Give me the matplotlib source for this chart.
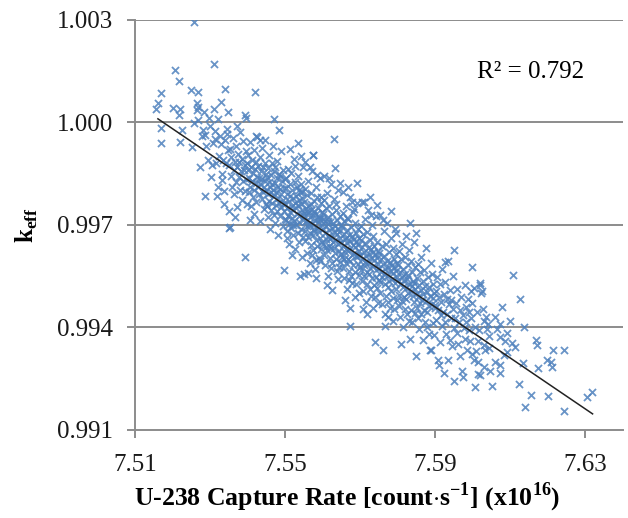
import numpy as np
import matplotlib.pyplot as plt
from matplotlib.ticker import FormatStrFormatter

plt.rcParams['font.family'] = ['Liberation Serif', 'DejaVu Serif']
plt.rcParams['mathtext.fontset'] = 'custom'
plt.rcParams['mathtext.rm'] = 'Liberation Serif'
plt.rcParams['mathtext.bf'] = 'Liberation Serif:bold'

# (capture rate x1e16, keff) pairs, grouped by region
left_tail = [
    (7.5256, 1.00293), (7.5311, 1.00171), (7.5207, 1.00154), (7.5217, 1.00121), (7.5341, 1.00098),
    (7.5419, 1.00089), (7.5169, 1.00087), (7.5249, 1.00093), (7.5268, 1.00089), (7.5160, 1.00056),
    (7.5156, 1.00039), (7.5200, 1.00042), (7.5220, 1.00040), (7.5218, 1.00022), (7.5264, 1.00056),
    (7.5269, 1.00045), (7.5264, 1.00036), (7.5393, 1.00022), (7.5395, 1.00012), (7.5469, 1.00009),
    (7.5269, 1.00007), (7.5297, 1.00012), (7.5169, 0.99982), (7.5169, 0.99939), (7.5220, 0.99942),
    (7.5226, 0.99976), (7.5258, 0.99998), (7.5282, 0.99978), (7.5287, 0.99963), (7.5278, 0.99960),
    (7.5345, 0.99980), (7.5346, 0.99966), (7.5371, 0.99990), (7.5313, 0.99951), (7.5253, 0.99929),
    (7.5483, 0.99976), (7.5423, 0.99960), (7.5433, 0.99947), (7.5447, 0.99949), (7.5287, 0.99783),
    (7.5273, 0.99869), (7.5305, 0.99876), (7.5303, 0.99841), (7.5322, 0.99812), (7.5331, 0.99832),
    (7.5336, 0.99798), (7.5318, 0.99783), (7.5340, 0.99949), (7.5325, 0.99900), (7.5334, 0.99890),
    (7.5343, 0.99881), (7.5348, 0.99920), (7.5329, 0.99935), (7.5315, 0.99880), (7.5338, 0.99760),
    (7.5350, 0.99740), (7.5332, 0.99850), (7.5312, 0.99975), (7.5290, 0.99930), (7.5300, 0.99990),
    (7.5308, 0.99940), (7.5295, 0.99890), (7.5320, 1.00010), (7.5326, 0.99960), (7.5285, 1.00030),
    (7.5310, 1.00040), (7.5330, 1.00060), (7.5348, 1.00030), (7.5367, 0.99724), (7.5353, 0.99695),
    (7.5351, 0.99690), (7.5393, 0.99607), (7.5407, 0.99715), (7.5497, 0.99568), (7.5540, 0.99549),
    (7.5549, 0.99557), (7.5629, 0.99952), (7.5575, 0.99905),
]

band_a = [
    (7.5351, 0.99876), (7.5353, 0.99921), (7.5355, 0.99843), (7.5357, 0.99898), (7.5359, 0.99812),
    (7.5361, 0.99955), (7.5363, 0.99861), (7.5364, 0.99790), (7.5366, 0.99884), (7.5368, 0.99930),
    (7.5369, 0.99826), (7.5371, 0.99868), (7.5372, 0.99752), (7.5374, 0.99907), (7.5376, 0.99839),
    (7.5377, 0.99885), (7.5379, 0.99971), (7.5381, 0.99803), (7.5382, 0.99856), (7.5384, 0.99774),
    (7.5386, 0.99892), (7.5387, 0.99829), (7.5389, 0.99944), (7.5391, 0.99861), (7.5392, 0.99798),
    (7.5394, 0.99874), (7.5395, 0.99915), (7.5397, 0.99835), (7.5398, 0.99760), (7.5399, 0.99882),
    (7.5401, 0.99861), (7.5402, 0.99903), (7.5403, 0.99795), (7.5404, 0.99838), (7.5406, 0.99942),
    (7.5407, 0.99812), (7.5408, 0.99870), (7.5409, 0.99756), (7.5411, 0.99889), (7.5412, 0.99827),
    (7.5413, 0.99780), (7.5414, 0.99851), (7.5416, 0.99918), (7.5417, 0.99803), (7.5418, 0.99733),
    (7.5419, 0.99864), (7.5421, 0.99822), (7.5422, 0.99885), (7.5423, 0.99768), (7.5424, 0.99841),
    (7.5426, 0.99957), (7.5427, 0.99810), (7.5428, 0.99873), (7.5429, 0.99791), (7.5431, 0.99836),
    (7.5432, 0.99712), (7.5433, 0.99898), (7.5434, 0.99818), (7.5436, 0.99857), (7.5437, 0.99776),
    (7.5438, 0.99925), (7.5439, 0.99833), (7.5441, 0.99795), (7.5442, 0.99868), (7.5443, 0.99746),
    (7.5444, 0.99812), (7.5446, 0.99880), (7.5447, 0.99829), (7.5448, 0.99762), (7.5449, 0.99849),
]

band_b = [
    (7.5450, 0.99803), (7.5451, 0.99841), (7.5452, 0.99754), (7.5453, 0.99867), (7.5454, 0.99722),
    (7.5455, 0.99790), (7.5456, 0.99826), (7.5457, 0.99903), (7.5458, 0.99771), (7.5459, 0.99812),
    (7.5460, 0.99688), (7.5461, 0.99845), (7.5462, 0.99796), (7.5463, 0.99742), (7.5464, 0.99880),
    (7.5465, 0.99818), (7.5466, 0.99765), (7.5467, 0.99931), (7.5468, 0.99801), (7.5469, 0.99729),
    (7.5470, 0.99856), (7.5471, 0.99783), (7.5472, 0.99822), (7.5473, 0.99704), (7.5474, 0.99868),
    (7.5475, 0.99757), (7.5476, 0.99795), (7.5477, 0.99836), (7.5478, 0.99741), (7.5479, 0.99887),
    (7.5480, 0.99779), (7.5481, 0.99812), (7.5482, 0.99670), (7.5483, 0.99850), (7.5484, 0.99763),
    (7.5485, 0.99804), (7.5486, 0.99726), (7.5487, 0.99842), (7.5488, 0.99789), (7.5489, 0.99915),
    (7.5490, 0.99751), (7.5492, 0.99828), (7.5493, 0.99697), (7.5494, 0.99773), (7.5495, 0.99861),
    (7.5496, 0.99740), (7.5497, 0.99808), (7.5498, 0.99765), (7.5499, 0.99833), (7.5499, 0.99718),
    (7.5500, 0.99762), (7.5501, 0.99808), (7.5502, 0.99715), (7.5503, 0.99836), (7.5504, 0.99681),
    (7.5505, 0.99749), (7.5506, 0.99790), (7.5507, 0.99727), (7.5508, 0.99864), (7.5509, 0.99703),
    (7.5510, 0.99771), (7.5511, 0.99645), (7.5512, 0.99818), (7.5513, 0.99738), (7.5514, 0.99785),
    (7.5515, 0.99692), (7.5516, 0.99851), (7.5517, 0.99756), (7.5518, 0.99720), (7.5519, 0.99801),
    (7.5520, 0.99669), (7.5521, 0.99779), (7.5522, 0.99742), (7.5523, 0.99893), (7.5524, 0.99711),
    (7.5525, 0.99765), (7.5526, 0.99628), (7.5527, 0.99826), (7.5528, 0.99750), (7.5529, 0.99698),
    (7.5530, 0.99784), (7.5531, 0.99733), (7.5532, 0.99811), (7.5533, 0.99676), (7.5534, 0.99759),
    (7.5535, 0.99842), (7.5536, 0.99709), (7.5537, 0.99772), (7.5538, 0.99650), (7.5539, 0.99795),
    (7.5540, 0.99728), (7.5541, 0.99761), (7.5542, 0.99687), (7.5543, 0.99820), (7.5544, 0.99743),
    (7.5545, 0.99606), (7.5546, 0.99778), (7.5547, 0.99715), (7.5548, 0.99868), (7.5549, 0.99736),
    (7.5541, 0.99902), (7.5533, 0.99939), (7.5518, 0.99611), (7.5527, 0.99872), (7.5512, 0.99921),
    (7.5506, 0.99662), (7.5538, 0.99803), (7.5547, 0.99664), (7.5521, 0.99700), (7.5544, 0.99796),
]

band_c = [
    (7.5550, 0.99725), (7.5551, 0.99768), (7.5552, 0.99683), (7.5553, 0.99804), (7.5554, 0.99652),
    (7.5555, 0.99711), (7.5556, 0.99749), (7.5557, 0.99618), (7.5558, 0.99786), (7.5559, 0.99697),
    (7.5560, 0.99735), (7.5561, 0.99664), (7.5562, 0.99829), (7.5563, 0.99706), (7.5564, 0.99758),
    (7.5565, 0.99589), (7.5566, 0.99722), (7.5567, 0.99676), (7.5568, 0.99793), (7.5569, 0.99641),
    (7.5570, 0.99744), (7.5571, 0.99701), (7.5572, 0.99857), (7.5573, 0.99669), (7.5574, 0.99728),
    (7.5575, 0.99625), (7.5576, 0.99770), (7.5577, 0.99688), (7.5578, 0.99741), (7.5579, 0.99570),
    (7.5580, 0.99715), (7.5581, 0.99812), (7.5582, 0.99656), (7.5583, 0.99733), (7.5584, 0.99692),
    (7.5585, 0.99781), (7.5586, 0.99637), (7.5587, 0.99709), (7.5588, 0.99750), (7.5589, 0.99603),
    (7.5590, 0.99724), (7.5591, 0.99680), (7.5592, 0.99838), (7.5593, 0.99661), (7.5594, 0.99716),
    (7.5595, 0.99764), (7.5596, 0.99629), (7.5597, 0.99698), (7.5598, 0.99737), (7.5599, 0.99651),
    (7.5553, 0.99883), (7.5560, 0.99558), (7.5567, 0.99870), (7.5575, 0.99905), (7.5583, 0.99545),
    (7.5571, 0.99612), (7.5586, 0.99846), (7.5594, 0.99594), (7.5557, 0.99739), (7.5564, 0.99700),
    (7.5578, 0.99683), (7.5589, 0.99718), (7.5596, 0.99780), (7.5581, 0.99596), (7.5569, 0.99760),
    (7.5600, 0.99688), (7.5601, 0.99731), (7.5602, 0.99645), (7.5603, 0.99772), (7.5604, 0.99613),
    (7.5605, 0.99676), (7.5606, 0.99712), (7.5607, 0.99581), (7.5608, 0.99750), (7.5609, 0.99659),
    (7.5610, 0.99697), (7.5611, 0.99627), (7.5612, 0.99794), (7.5613, 0.99668), (7.5614, 0.99722),
    (7.5615, 0.99551), (7.5616, 0.99685), (7.5617, 0.99639), (7.5618, 0.99756), (7.5619, 0.99604),
    (7.5620, 0.99707), (7.5621, 0.99664), (7.5622, 0.99818), (7.5623, 0.99632), (7.5624, 0.99691),
    (7.5625, 0.99588), (7.5626, 0.99733), (7.5627, 0.99650), (7.5628, 0.99704), (7.5630, 0.99678),
    (7.5631, 0.99775), (7.5632, 0.99619), (7.5633, 0.99696), (7.5634, 0.99655), (7.5635, 0.99744),
    (7.5636, 0.99600), (7.5637, 0.99672), (7.5638, 0.99713), (7.5639, 0.99566), (7.5640, 0.99687),
    (7.5641, 0.99643), (7.5642, 0.99801), (7.5643, 0.99624), (7.5644, 0.99679), (7.5645, 0.99727),
    (7.5646, 0.99592), (7.5647, 0.99661), (7.5648, 0.99700), (7.5649, 0.99614), (7.5604, 0.99843),
    (7.5611, 0.99525), (7.5618, 0.99836), (7.5626, 0.99509), (7.5633, 0.99865), (7.5640, 0.99541),
    (7.5647, 0.99823), (7.5608, 0.99635), (7.5615, 0.99710), (7.5622, 0.99573), (7.5636, 0.99760),
    (7.5644, 0.99577), (7.5602, 0.99716), (7.5620, 0.99658), (7.5630, 0.99632),
]

band_d = [
    (7.5650, 0.99650), (7.5651, 0.99693), (7.5652, 0.99607), (7.5653, 0.99734), (7.5654, 0.99575),
    (7.5655, 0.99638), (7.5656, 0.99674), (7.5657, 0.99543), (7.5658, 0.99712), (7.5659, 0.99621),
    (7.5660, 0.99659), (7.5661, 0.99589), (7.5662, 0.99756), (7.5663, 0.99630), (7.5664, 0.99684),
    (7.5665, 0.99513), (7.5666, 0.99647), (7.5667, 0.99601), (7.5668, 0.99718), (7.5669, 0.99566),
    (7.5670, 0.99669), (7.5671, 0.99626), (7.5672, 0.99780), (7.5673, 0.99594), (7.5674, 0.99653),
    (7.5675, 0.99550), (7.5676, 0.99695), (7.5677, 0.99612), (7.5678, 0.99666), (7.5679, 0.99531),
    (7.5680, 0.99640), (7.5681, 0.99737), (7.5682, 0.99581), (7.5683, 0.99658), (7.5684, 0.99617),
    (7.5685, 0.99706), (7.5686, 0.99562), (7.5687, 0.99634), (7.5688, 0.99675), (7.5689, 0.99528),
    (7.5690, 0.99649), (7.5691, 0.99605), (7.5692, 0.99763), (7.5693, 0.99586), (7.5694, 0.99641),
    (7.5695, 0.99689), (7.5696, 0.99554), (7.5697, 0.99623), (7.5698, 0.99662), (7.5699, 0.99576),
    (7.5654, 0.99795), (7.5660, 0.99480), (7.5667, 0.99812), (7.5673, 0.99456), (7.5679, 0.99768),
    (7.5673, 0.99404), (7.5686, 0.99490), (7.5692, 0.99822), (7.5657, 0.99601), (7.5664, 0.99720),
    (7.5670, 0.99540), (7.5683, 0.99745), (7.5689, 0.99610), (7.5696, 0.99500), (7.5662, 0.99660),
    (7.5700, 0.99612), (7.5701, 0.99655), (7.5702, 0.99569), (7.5703, 0.99696), (7.5704, 0.99537),
    (7.5705, 0.99600), (7.5706, 0.99636), (7.5707, 0.99505), (7.5708, 0.99674), (7.5709, 0.99583),
    (7.5710, 0.99621), (7.5711, 0.99551), (7.5712, 0.99718), (7.5713, 0.99592), (7.5714, 0.99646),
    (7.5715, 0.99475), (7.5716, 0.99609), (7.5717, 0.99563), (7.5718, 0.99680), (7.5719, 0.99528),
    (7.5720, 0.99631), (7.5721, 0.99588), (7.5722, 0.99742), (7.5723, 0.99556), (7.5724, 0.99615),
    (7.5725, 0.99512), (7.5726, 0.99657), (7.5727, 0.99574), (7.5728, 0.99628), (7.5729, 0.99493),
    (7.5730, 0.99602), (7.5731, 0.99699), (7.5732, 0.99543), (7.5733, 0.99620), (7.5734, 0.99579),
    (7.5735, 0.99668), (7.5736, 0.99524), (7.5737, 0.99596), (7.5738, 0.99637), (7.5739, 0.99490),
    (7.5740, 0.99611), (7.5741, 0.99567), (7.5742, 0.99725), (7.5743, 0.99548), (7.5744, 0.99603),
    (7.5745, 0.99651), (7.5746, 0.99516), (7.5747, 0.99585), (7.5748, 0.99624), (7.5749, 0.99538),
    (7.5711, 0.99768), (7.5704, 0.99768), (7.5718, 0.99440), (7.5726, 0.99782), (7.5733, 0.99457),
    (7.5740, 0.99357), (7.5745, 0.99758), (7.5708, 0.99455), (7.5730, 0.99730), (7.5747, 0.99470),
]

band_e = [
    (7.5750, 0.99575), (7.5751, 0.99618), (7.5752, 0.99532), (7.5753, 0.99729), (7.5754, 0.99500),
    (7.5755, 0.99563), (7.5756, 0.99599), (7.5757, 0.99468), (7.5758, 0.99637), (7.5759, 0.99546),
    (7.5760, 0.99584), (7.5761, 0.99715), (7.5762, 0.99681), (7.5763, 0.99555), (7.5764, 0.99609),
    (7.5765, 0.99438), (7.5766, 0.99572), (7.5767, 0.99526), (7.5768, 0.99643), (7.5769, 0.99491),
    (7.5770, 0.99594), (7.5771, 0.99551), (7.5772, 0.99705), (7.5773, 0.99519), (7.5774, 0.99578),
    (7.5775, 0.99475), (7.5776, 0.99620), (7.5777, 0.99537), (7.5778, 0.99591), (7.5779, 0.99456),
    (7.5780, 0.99565), (7.5782, 0.99662), (7.5783, 0.99506), (7.5784, 0.99583), (7.5785, 0.99542),
    (7.5786, 0.99631), (7.5787, 0.99487), (7.5788, 0.99559), (7.5789, 0.99600), (7.5790, 0.99453),
    (7.5791, 0.99574), (7.5792, 0.99530), (7.5793, 0.99688), (7.5794, 0.99511), (7.5795, 0.99566),
    (7.5796, 0.99614), (7.5797, 0.99479), (7.5798, 0.99548), (7.5799, 0.99587), (7.5761, 0.99334),
    (7.5767, 0.99405), (7.5774, 0.99430), (7.5781, 0.99740), (7.5788, 0.99420), (7.5796, 0.99675),
    (7.5800, 0.99538), (7.5801, 0.99581), (7.5802, 0.99495), (7.5803, 0.99622), (7.5804, 0.99463),
    (7.5805, 0.99526), (7.5806, 0.99562), (7.5807, 0.99431), (7.5808, 0.99600), (7.5809, 0.99352),
    (7.5810, 0.99547), (7.5811, 0.99477), (7.5812, 0.99644), (7.5813, 0.99518), (7.5814, 0.99572),
    (7.5815, 0.99401), (7.5816, 0.99535), (7.5817, 0.99489), (7.5818, 0.99606), (7.5819, 0.99454),
    (7.5820, 0.99557), (7.5821, 0.99514), (7.5822, 0.99668), (7.5823, 0.99482), (7.5824, 0.99541),
    (7.5825, 0.99438), (7.5826, 0.99583), (7.5827, 0.99500), (7.5828, 0.99554), (7.5829, 0.99419),
    (7.5830, 0.99528), (7.5831, 0.99625), (7.5832, 0.99705), (7.5833, 0.99365), (7.5834, 0.99505),
    (7.5835, 0.99594), (7.5836, 0.99450), (7.5837, 0.99522), (7.5838, 0.99563), (7.5839, 0.99416),
    (7.5840, 0.99537), (7.5841, 0.99493), (7.5842, 0.99651), (7.5843, 0.99474), (7.5844, 0.99529),
    (7.5845, 0.99577), (7.5846, 0.99442), (7.5847, 0.99511), (7.5849, 0.99677), (7.5849, 0.99315),
]

band_f = [
    (7.5850, 0.99501), (7.5851, 0.99544), (7.5852, 0.99458), (7.5853, 0.99585), (7.5854, 0.99426),
    (7.5855, 0.99489), (7.5856, 0.99525), (7.5857, 0.99394), (7.5858, 0.99563), (7.5859, 0.99472),
    (7.5861, 0.99510), (7.5862, 0.99440), (7.5863, 0.99607), (7.5864, 0.99481), (7.5866, 0.99535),
    (7.5867, 0.99364), (7.5868, 0.99498), (7.5869, 0.99452), (7.5871, 0.99569), (7.5872, 0.99417),
    (7.5873, 0.99520), (7.5874, 0.99477), (7.5876, 0.99631), (7.5877, 0.99445), (7.5878, 0.99504),
    (7.5879, 0.99401), (7.5881, 0.99546), (7.5882, 0.99463), (7.5883, 0.99517), (7.5884, 0.99382),
    (7.5886, 0.99491), (7.5887, 0.99334), (7.5888, 0.99588), (7.5889, 0.99334), (7.5890, 0.99468),
    (7.5891, 0.99557), (7.5893, 0.99413), (7.5894, 0.99485), (7.5895, 0.99526), (7.5896, 0.99379),
    (7.5897, 0.99500), (7.5899, 0.99456), (7.5900, 0.99464), (7.5901, 0.99507), (7.5903, 0.99421),
    (7.5904, 0.99548), (7.5906, 0.99305), (7.5907, 0.99452), (7.5909, 0.99290), (7.5910, 0.99488),
    (7.5912, 0.99357), (7.5913, 0.99526), (7.5915, 0.99435), (7.5916, 0.99473), (7.5918, 0.99403),
    (7.5919, 0.99570), (7.5921, 0.99444), (7.5922, 0.99268), (7.5923, 0.99498), (7.5925, 0.99415),
    (7.5926, 0.99532), (7.5927, 0.99591), (7.5929, 0.99380), (7.5930, 0.99483), (7.5931, 0.99440),
    (7.5933, 0.99594), (7.5935, 0.99305), (7.5936, 0.99467), (7.5938, 0.99364), (7.5939, 0.99509),
    (7.5941, 0.99426), (7.5943, 0.99480), (7.5944, 0.99345), (7.5946, 0.99454), (7.5948, 0.99551),
    (7.5949, 0.99397), (7.5951, 0.99625),
]

right_tail = [
    (7.5951, 0.99244), (7.5953, 0.99427), (7.5955, 0.99470), (7.5957, 0.99384), (7.5959, 0.99511),
    (7.5961, 0.99352), (7.5963, 0.99415), (7.5965, 0.99451), (7.5967, 0.99315), (7.5969, 0.99489),
    (7.5971, 0.99271), (7.5973, 0.99437), (7.5975, 0.99254), (7.5976, 0.99398), (7.5978, 0.99523),
    (7.5979, 0.99366), (7.5981, 0.99460), (7.5983, 0.99417), (7.5985, 0.99335), (7.5987, 0.99482),
    (7.5989, 0.99391), (7.5991, 0.99445), (7.5993, 0.99360), (7.5994, 0.99507), (7.5996, 0.99428),
    (7.5998, 0.99578), (7.5999, 0.99322), (7.5997, 0.99470), (7.6002, 0.99515), (7.6007, 0.99225),
    (7.6015, 0.99264), (7.6020, 0.99261), (7.6020, 0.99529), (7.6025, 0.99505), (7.6020, 0.99524),
    (7.6023, 0.99501), (7.6031, 0.99419), (7.6029, 0.99349), (7.6033, 0.99334), (7.6042, 0.99339),
    (7.6029, 0.99285), (7.6047, 0.99271), (7.6051, 0.99229), (7.6005, 0.99400), (7.6010, 0.99445),
    (7.6013, 0.99360), (7.6017, 0.99392), (7.6036, 0.99430), (7.6040, 0.99410), (7.6044, 0.99375),
    (7.6008, 0.99332), (7.6026, 0.99455), (7.6038, 0.99395), (7.6003, 0.99305), (7.6015, 0.99300),
    (7.6060, 0.99300), (7.6073, 0.99290), (7.6073, 0.99266), (7.6078, 0.99461), (7.6073, 0.99410),
    (7.6073, 0.99373), (7.6091, 0.99385), (7.6091, 0.99329), (7.6082, 0.99320), (7.6105, 0.99354),
    (7.6113, 0.99344), (7.6125, 0.99483), (7.6122, 0.99235), (7.6134, 0.99297), (7.6137, 0.99401),
    (7.6138, 0.99168), (7.6065, 0.99395), (7.6085, 0.99360), (7.6098, 0.99420), (7.6058, 0.99430),
    (7.6108, 0.99554), (7.6155, 0.99202), (7.6167, 0.99363), (7.6171, 0.99349), (7.6173, 0.99281),
    (7.6198, 0.99305), (7.6208, 0.99300), (7.6211, 0.99285), (7.6200, 0.99200), (7.6214, 0.99334),
    (7.6244, 0.99334), (7.6244, 0.99154), (7.6303, 0.99197), (7.6318, 0.99212),
]

# linear trendline end points as drawn in the chart
trend_x = [7.5161, 7.6319]
trend_y = [1.00010, 0.99147]

x_ticks = [7.51, 7.55, 7.59, 7.63]
y_ticks = [0.991, 0.994, 0.997, 1.000, 1.003]
r2_label = 'R² = 0.792'

pts = np.array(left_tail + band_a + band_b + band_c + band_d + band_e + band_f + right_tail)
x, y = pts[:, 0], pts[:, 1]

fig = plt.figure(figsize=(6.28, 5.18), dpi=100)
ax = fig.add_axes([0.215, 0.170, 0.777, 0.792])

grey = '#8c8c8c'
for yt in y_ticks[1:]:
    ax.axhline(yt, color=grey, lw=1.4, zorder=0)

ax.scatter(x, y, marker='x', s=26, linewidths=1.3, color='#4f81bd', alpha=0.85, zorder=2)
ax.plot(trend_x, trend_y, color='#222222', lw=1.1, zorder=3)

ax.set_xlim(7.51, 7.64)
ax.set_ylim(0.991, 1.003)
ax.set_xticks(x_ticks)
ax.set_yticks(y_ticks)
ax.xaxis.set_major_formatter(FormatStrFormatter('%.2f'))
ax.yaxis.set_major_formatter(FormatStrFormatter('%.3f'))

for s in ['top', 'right']:
    ax.spines[s].set_visible(False)
for s in ['left', 'bottom']:
    ax.spines[s].set_color(grey)
    ax.spines[s].set_linewidth(1.4)
ax.tick_params(axis='both', colors=grey, labelcolor='#1a1a1a', length=6, width=1.4,
               labelsize=18)
ax.tick_params(axis='y', pad=10)
ax.tick_params(axis='x', pad=11)

ax.text(0.70, 0.873, r2_label, transform=ax.transAxes, fontsize=18, va='center', ha='left')

fig.text(347 / 628, 0.008, r'U-238 Capture Rate [count$\cdot$s$^{\mathbf{-1}}$] (x10$^{\mathbf{16}}$)',
         ha='center', va='bottom', fontsize=18.5, fontweight='bold')
fig.text(27 / 628, 0.565, r'k$_{\mathbf{eff}}$', rotation=90, ha='center', va='center',
         fontsize=18, fontweight='bold')

fig.savefig('out.png', dpi=100)
